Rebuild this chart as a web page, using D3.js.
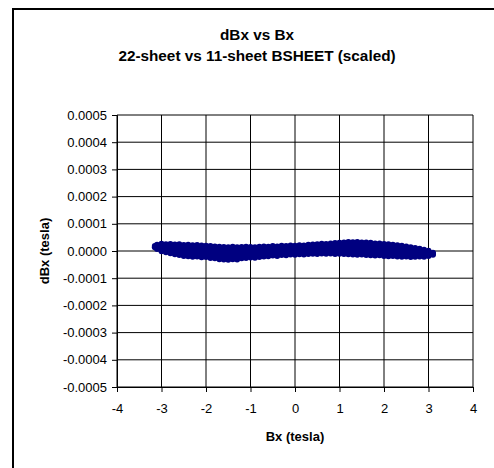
<!DOCTYPE html>
<html>
<head>
<meta charset="utf-8">
<script src="https://cdn.jsdelivr.net/npm/d3@7"></script>
<style>
  html, body { margin: 0; padding: 0; background: #fff; }
  svg { display: block; font-family: "Liberation Sans", Arial, sans-serif; }
</style>
</head>
<body>
<svg id="chart" width="494" height="468"></svg>
<script>
// Field difference dBx between the 22-sheet and scaled 11-sheet BSHEET models,
// sampled along Bx. Each column lists the dBx samples (microtesla) at that Bx.
const bxValues = [
  -3.15, -3.1, -3.0, -2.9, -2.8, -2.7, -2.6, -2.5, -2.4, -2.3, -2.2, -2.1,
  -2.0, -1.9, -1.8, -1.7, -1.6, -1.5, -1.4, -1.3, -1.2, -1.1, -1.0, -0.9,
  -0.8, -0.7, -0.6, -0.5, -0.4, -0.3, -0.2, -0.1, 0.0, 0.1, 0.2, 0.3,
  0.4, 0.5, 0.6, 0.7, 0.8, 0.9, 1.0, 1.1, 1.2, 1.3, 1.4, 1.5,
  1.6, 1.7, 1.8, 1.9, 2.0, 2.1, 2.2, 2.3, 2.4, 2.5, 2.6, 2.7,
  2.8, 2.9, 3.0, 3.1
];
const dBxMicroTesla = [
  [18, 14], [23, 17, 12, 7], [27, 19, 12, 5, -1], [25, 17, 9, 1, -5],
  [26, 16, 7, -2, -8], [24, 15, 5, -4, -12], [25, 14, 3, -7, -15], [22, 12, 2, -8, -18],
  [23, 12, 1, -9, -19], [21, 11, 0, -10, -21], [22, 10, -1, -11, -20], [20, 9, -1, -12, -23],
  [19, 8, -2, -13, -22], [18, 7, -3, -14, -26], [17, 6, -5, -16, -27], [16, 5, -6, -17, -30],
  [15, 3, -8, -19, -31], [14, 2, -9, -20, -32], [16, 3, -8, -20, -30], [14, 2, -8, -19, -31],
  [15, 3, -7, -18, -27], [16, 4, -6, -16, -26], [15, 4, -5, -15, -24], [14, 4, -5, -14, -25],
  [16, 6, -3, -13, -22], [17, 7, -2, -12, -20], [16, 7, -1, -10, -19], [18, 8, 0, -9, -17],
  [17, 8, 0, -9, -18], [19, 9, 1, -8, -15], [18, 9, 2, -7, -16], [20, 10, 2, -6, -13],
  [19, 10, 3, -5, -14], [21, 11, 3, -5, -12], [20, 12, 4, -4, -13], [23, 13, 5, -3, -11],
  [24, 14, 6, -2, -10], [25, 15, 7, -2, -11], [27, 16, 7, -1, -9], [26, 16, 8, -1, -10],
  [28, 18, 9, -1, -9], [29, 18, 9, 0, -11], [30, 19, 10, 0, -10], [31, 20, 10, 0, -11],
  [33, 20, 10, -1, -12], [32, 21, 10, -1, -13], [33, 21, 10, -2, -14], [31, 20, 9, -2, -13],
  [31, 19, 8, -3, -15], [30, 18, 7, -4, -16], [28, 17, 6, -5, -17], [28, 16, 5, -6, -16],
  [26, 15, 4, -7, -18], [25, 14, 3, -8, -19], [23, 12, 2, -9, -18], [21, 11, 1, -10, -20],
  [19, 9, 0, -10, -21], [17, 8, -1, -11, -20], [14, 6, -2, -12, -22], [11, 4, -4, -13, -21],
  [8, 1, -6, -13, -20], [5, -1, -7, -14, -21], [1, -5, -11, -18], [-6, -10, -14]
];

const xTicks = [-4, -3, -2, -1, 0, 1, 2, 3, 4];
const yTicks = [-0.0005, -0.0004, -0.0003, -0.0002, -0.0001, 0, 0.0001, 0.0002, 0.0003, 0.0004, 0.0005];
const titleLines = ["dBx vs Bx", "22-sheet vs 11-sheet BSHEET (scaled)"];
const xTitle = "Bx (tesla)";
const yTitle = "dBx (tesla)";

// flatten the columns into (Bx, dBx) points in tesla
const points = [];
bxValues.forEach((bx, i) => {
  dBxMicroTesla[i].forEach(v => points.push({ bx: bx, dbx: v / 1e6 }));
});

const svg = d3.select("#chart");
const plot = { left: 117, right: 473, top: 115, bottom: 387 };

const x = d3.scaleLinear().domain([-4, 4]).range([plot.left, plot.right]);
const y = d3.scaleLinear().domain([-0.0005, 0.0005]).range([plot.bottom, plot.top]);

// chart area frame
svg.append("rect")
  .attr("x", 13).attr("y", 9)
  .attr("width", 600).attr("height", 600)
  .attr("fill", "#fff")
  .attr("stroke", "#000").attr("stroke-width", 2);

// gridlines
const grid = svg.append("g").attr("stroke", "#000").attr("stroke-width", 1);
grid.selectAll("line.v").data(xTicks).join("line")
  .attr("class", "v")
  .attr("x1", d => x(d)).attr("x2", d => x(d))
  .attr("y1", plot.top).attr("y2", plot.bottom);
grid.selectAll("line.h").data(yTicks).join("line")
  .attr("class", "h")
  .attr("x1", plot.left).attr("x2", plot.right)
  .attr("y1", d => y(d)).attr("y2", d => y(d));

// axes with outward tick marks
const yAxis = d3.axisLeft(y).tickValues(yTicks).tickSize(5).tickPadding(5)
  .tickFormat(d => d.toFixed(4));
const xAxis = d3.axisBottom(x).tickValues(xTicks).tickSize(5).tickPadding(12)
  .tickFormat(d => String(d));

const gy = svg.append("g").attr("transform", `translate(${plot.left},0)`).call(yAxis);
const gx = svg.append("g").attr("transform", `translate(0,${plot.bottom})`).call(xAxis);
[gx, gy].forEach(g => {
  g.selectAll("path.domain").attr("stroke", "#000").attr("stroke-width", 1);
  g.selectAll(".tick line").attr("stroke", "#000");
  g.selectAll(".tick text")
    .attr("fill", "#000")
    .style("font-family", "'Liberation Sans', Arial, sans-serif")
    .style("font-size", "13px");
});

// data markers
svg.append("g").attr("fill", "#000080")
  .selectAll("circle").data(points).join("circle")
  .attr("cx", d => x(d.bx))
  .attr("cy", d => y(d.dbx))
  .attr("r", 3);

// titles
svg.selectAll("text.title").data(titleLines).join("text")
  .attr("class", "title")
  .attr("x", 257)
  .attr("y", (d, i) => 40 + i * 21)
  .attr("text-anchor", "middle")
  .style("font-weight", "bold")
  .style("font-size", "15.3px")
  .text(d => d);

svg.append("text")
  .attr("x", (plot.left + plot.right) / 2)
  .attr("y", 441)
  .attr("text-anchor", "middle")
  .style("font-weight", "bold")
  .style("font-size", "13px")
  .text(xTitle);

svg.append("text")
  .attr("transform", `translate(49,${(plot.top + plot.bottom) / 2}) rotate(-90)`)
  .attr("text-anchor", "middle")
  .style("font-weight", "bold")
  .style("font-size", "13px")
  .text(yTitle);
</script>
</body>
</html>
